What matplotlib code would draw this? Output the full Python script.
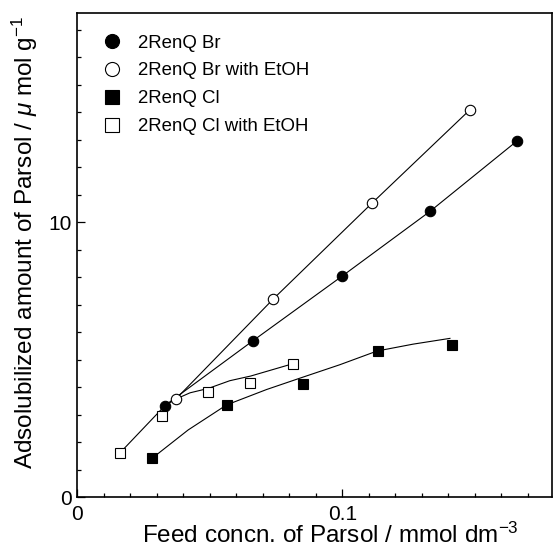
import numpy as np
import matplotlib.pyplot as plt
from matplotlib.ticker import MultipleLocator, FixedLocator

plt.rcParams['font.family'] = ['Liberation Sans', 'DejaVu Sans']
plt.rcParams['mathtext.fontset'] = 'custom'
plt.rcParams['mathtext.rm'] = 'Liberation Sans'
plt.rcParams['mathtext.it'] = 'Liberation Sans:italic'

# measured points
br_x = [0.0329, 0.0662, 0.1000, 0.1331, 0.1658]
br_y = [3.33, 5.69, 8.05, 10.40, 12.95]

br_etoh_x = [0.0371, 0.0740, 0.1111, 0.1480]
br_etoh_y = [3.57, 7.22, 10.69, 14.08]

cl_x = [0.0282, 0.0563, 0.0852, 0.1133, 0.1413]
cl_y = [1.42, 3.35, 4.13, 5.31, 5.53]

cl_etoh_x = [0.0161, 0.0320, 0.0492, 0.0652, 0.0812]
cl_etoh_y = [1.62, 2.95, 3.84, 4.16, 4.86]

# hand-drawn trend curves
cl_curve_x = [0.0282, 0.0418, 0.0563, 0.0714, 0.0845, 0.0990, 0.1131, 0.1267, 0.1406]
cl_curve_y = [1.42, 2.45, 3.36, 3.92, 4.35, 4.82, 5.32, 5.57, 5.78]

cl_etoh_curve_x = [0.0161, 0.0330, 0.0371, 0.0425, 0.0494, 0.0575, 0.0654, 0.0796]
cl_etoh_curve_y = [1.62, 3.33, 3.57, 3.80, 3.96, 4.24, 4.41, 4.81]

labels = ['2RenQ Br', '2RenQ Br with EtOH', '2RenQ Cl', '2RenQ Cl with EtOH']

fig = plt.figure(figsize=(5.55, 5.53), dpi=100)
ax = fig.add_axes([0.1395, 0.1007, 0.8550, 0.8752])

lw = 0.8
ax.plot(br_x, br_y, color='black', lw=lw, zorder=2)
ax.plot(br_etoh_x, br_etoh_y, color='black', lw=lw, zorder=2)
ax.plot(cl_curve_x, cl_curve_y, color='black', lw=lw, zorder=2)
ax.plot(cl_etoh_curve_x, cl_etoh_curve_y, color='black', lw=lw, zorder=2)

ms = 7.5
ax.plot(br_x, br_y, ls='none', marker='o', ms=ms, mfc='black', mec='black',
        mew=0.8, zorder=3, label=labels[0])
ax.plot(br_etoh_x, br_etoh_y, ls='none', marker='o', ms=ms, mfc='white', mec='black',
        mew=0.8, zorder=3, label=labels[1])
ax.plot(cl_x, cl_y, ls='none', marker='s', ms=ms - 0.3, mfc='black', mec='black',
        mew=0.8, zorder=3, label=labels[2])
ax.plot(cl_etoh_x, cl_etoh_y, ls='none', marker='s', ms=ms - 0.3, mfc='white', mec='black',
        mew=0.8, zorder=3, label=labels[3])

ax.set_xlim(0, 0.1791)
ax.set_ylim(0, 17.6)

ax.xaxis.set_major_locator(FixedLocator([0, 0.1]))
ax.xaxis.set_minor_locator(MultipleLocator(0.01))
ax.yaxis.set_major_locator(FixedLocator([0, 10]))
ax.yaxis.set_minor_locator(MultipleLocator(1))
ax.set_xticklabels(['0', '0.1'])
ax.set_yticklabels(['0', '10'])

ax.tick_params(which='both', direction='in', top=False, right=False, width=0.9)
ax.tick_params(which='major', length=5.5, labelsize=15)
ax.tick_params(which='minor', length=3)
ax.tick_params(axis='x', which='major', pad=5.2)
ax.tick_params(axis='y', which='major', pad=4.1)

for sp in ax.spines.values():
    sp.set_linewidth(1.2)

ax.set_xlabel('Feed concn. of Parsol / mmol dm$^{-3}$', fontsize=17.5)
ax.set_ylabel('Adsolubilized amount of Parsol / $\\mu$ mol g$^{-1}$', fontsize=17.5)
ax.xaxis.label.set_va('baseline')
ax.yaxis.label.set_va('baseline')
ax.xaxis.set_label_coords(0.534, -0.095)
ax.yaxis.set_label_coords(-0.0929, 0.5264)

ax.legend(loc='upper left', bbox_to_anchor=(0.0527, 0.956), frameon=False,
          fontsize=13.4, handlelength=1.0, handletextpad=0.93, markerscale=1.35,
          labelspacing=0.58, borderpad=0, borderaxespad=0)

fig.savefig('out.png', dpi=100)
